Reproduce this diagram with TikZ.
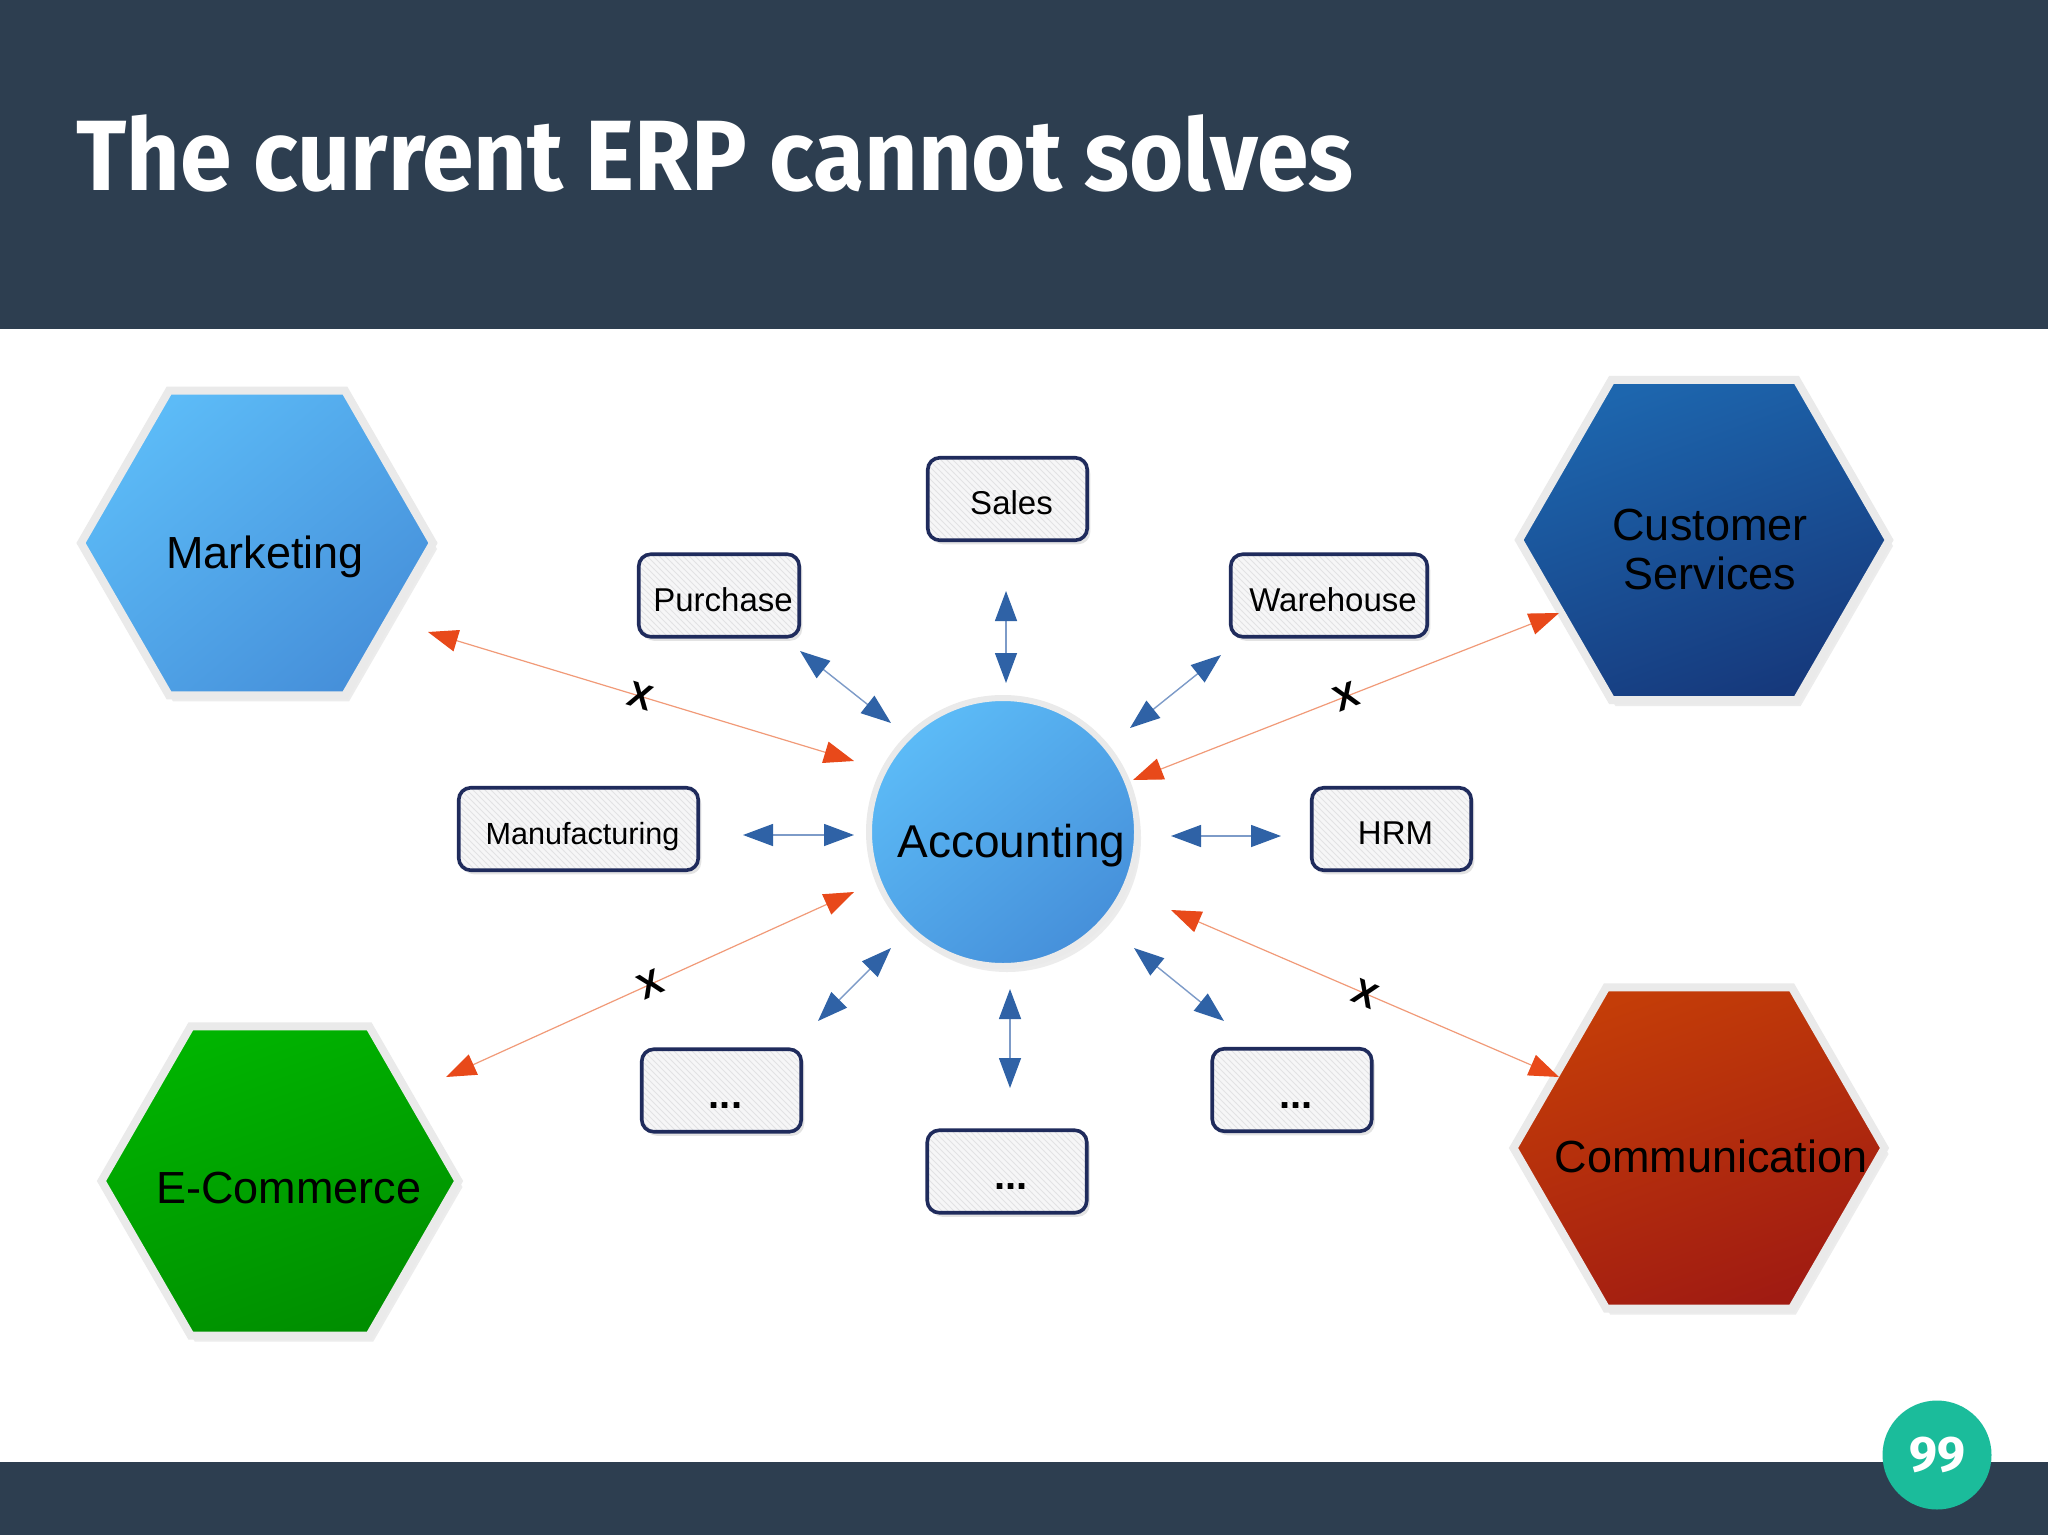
\documentclass[tikz,border=0pt]{standalone}
\usepackage{fontspec}
\setmainfont{Liberation Sans}
\newfontfamily\titlefont{Fira Sans}
\usepackage{graphicx}
\usetikzlibrary{shapes.geometric,arrows.meta,patterns,shadows}
\definecolor{band}{HTML}{2D3E50}
\definecolor{pgteal}{HTML}{1BBC9B}
\definecolor{hexborder}{HTML}{EAEAEA}
\definecolor{boxline}{HTML}{1F2B5C}
\definecolor{boxfill}{HTML}{F6F6F7}
\definecolor{hatch}{HTML}{E2E2E4}
\definecolor{arrblue}{HTML}{2F62A6}
\definecolor{arrblueline}{HTML}{7D9BC8}
\definecolor{arrorange}{HTML}{E8491A}
\definecolor{arrorangeline}{HTML}{F19A78}
\definecolor{mkA}{HTML}{5CBBF7}
\definecolor{mkB}{HTML}{4690DA}
\definecolor{csA}{HTML}{1D66AE}
\definecolor{csB}{HTML}{16397C}
\definecolor{ecA}{HTML}{00B400}
\definecolor{ecB}{HTML}{008E00}
\definecolor{coA}{HTML}{C43D08}
\definecolor{coB}{HTML}{A01B12}
\begin{document}
\begin{tikzpicture}[x=0.5pt,y=-0.5pt,
  hexa/.style={regular polygon, regular polygon sides=6, inner sep=0pt,
    draw=hexborder, line width=4pt,
    drop shadow={shadow xshift=2pt, shadow yshift=-3pt, opacity=0.15}},
  hextext/.style={anchor=base, inner sep=0pt, text=black, font=\fontsize{22.5pt}{26pt}\selectfont},
  accnode/.style={circle, inner sep=0pt, draw=hexborder, line width=3pt,
    drop shadow={shadow xshift=2pt, shadow yshift=-3pt, opacity=0.15}},
  modbox/.style={rounded corners=6pt, inner sep=0pt,
    drop shadow={shadow xshift=1.5pt, shadow yshift=-2pt, opacity=0.22},
    preaction={fill=boxfill}, pattern=north west lines, pattern color=hatch,
    draw=boxline, line width=1.8pt, minimum height=41.25pt,
    font=\fontsize{16.5pt}{19pt}\selectfont, text height=16pt, text depth=0.5pt,
    execute at begin node={\hspace*{4pt}}},
  dotbox/.style={modbox, minimum width=79.75pt, text height=18.5pt,
    font=\bfseries\fontsize{20pt}{22pt}\selectfont},
  bluearr/.style={draw=arrblueline, line width=0.7pt,
    {Triangle[length=15pt,width=11pt,color=arrblue]}-{Triangle[length=15pt,width=11pt,color=arrblue]}},
  orangearr/.style={draw=arrorangeline, line width=0.6pt,
    {Triangle[length=15pt,width=11pt,color=arrorange]}-{Triangle[length=15pt,width=11pt,color=arrorange]}},
  xmark/.style={sloped, pos=0.5, inner sep=0pt, text=black, font=\bfseries\fontsize{18pt}{18pt}\selectfont}
]
\useasboundingbox (0,0) rectangle (2048,1535);
\fill[white] (0,0) rectangle (2048,1535);
% bands
\fill[band] (0,0) rectangle (2048,329);
\fill[band] (0,1462) rectangle (2048,1535);
\node[anchor=base west, inner sep=0pt, text=white] (title) at (76,191)
  {\resizebox{638.5pt}{\height}{\titlefont\bfseries\fontsize{50pt}{55pt}\selectfont The current ERP cannot solves}};

% hexagons
\node[hexa, minimum size=176pt, left color=mkA, right color=mkB, shading angle=40] (mkt) at (257,543) {};
\node[hextext] (mkt-t) at (265,568) {Marketing};
\node[hexa, minimum size=185pt, left color=csA, right color=csB, shading angle=20] (cs) at (1704,540) {};
\node[hextext, align=center] (cs-t) at (1710,589) {Customer\\[-1.5pt]Services};
\node[hexa, minimum size=178.5pt, left color=ecA, right color=ecB, shading angle=20] (ec) at (280,1181) {};
\node[hextext] (ec-t) at (289,1203) {E-Commerce};
\node[hexa, minimum size=185.5pt, left color=coA, right color=coB, shading angle=20] (co) at (1699,1148) {};
\node[hextext] (co-t) at (1711,1172) {Communication};

% accounting
\node[accnode, minimum size=134pt, left color=mkA, right color=mkB, shading angle=40] (acc) at (1003,832) {};
\node[hextext, font=\fontsize{23pt}{26pt}\selectfont] (acc-t) at (1011.5,857) {Accounting};

% module boxes
\node[modbox, minimum width=79.75pt] (sales) at (1007.5,499) {Sales};
\node[modbox, minimum width=80.25pt] (purch) at (719,595.5) {Purchase};
\node[modbox, minimum width=98.25pt] (wh) at (1329,595.5) {Warehouse};
\node[modbox, minimum width=119.75pt, font=\fontsize{15.3pt}{18pt}\selectfont] (manu) at (578.5,829) {Manufacturing};
\node[modbox, minimum width=79.75pt] (hrm) at (1391.5,829) {HRM};
\node[dotbox] (dotbl) at (721.5,1090.5) {...};
\node[dotbox] (dotb) at (1007,1171.5) {...};
\node[dotbox] (dotbr) at (1292,1090) {...};

% connector end points
\coordinate (s1) at (1006,591);  \coordinate (s2) at (1006,683);
\coordinate (p1) at (800,651);   \coordinate (p2) at (891,723);
\coordinate (w1) at (1221,655);  \coordinate (w2) at (1130,728);
\coordinate (m1) at (743,835);   \coordinate (m2) at (854,835);
\coordinate (h1) at (1171,836);  \coordinate (h2) at (1281,836);
\coordinate (bl1) at (891,948);  \coordinate (bl2) at (818,1021);
\coordinate (b1) at (1010,989);  \coordinate (b2) at (1010,1088);
\coordinate (br1) at (1134,948); \coordinate (br2) at (1224,1021);
\coordinate (om1) at (428,632);  \coordinate (om2) at (854,761);
\coordinate (oc1) at (1559,613); \coordinate (oc2) at (1133,780);
\coordinate (oe1) at (854,892);  \coordinate (oe2) at (446,1077);
\coordinate (ok1) at (1171,910); \coordinate (ok2) at (1559,1077);

% blue connectors
\draw[bluearr] (s1) -- (s2);
\draw[bluearr] (p1) -- (p2);
\draw[bluearr] (w1) -- (w2);
\draw[bluearr] (m1) -- (m2);
\draw[bluearr] (h1) -- (h2);
\draw[bluearr] (bl1) -- (bl2);
\draw[bluearr] (b1) -- (b2);
\draw[bluearr] (br1) -- (br2);

% orange connectors
\draw[orangearr] (om1) -- node[xmark] (xm) {X} (om2);
\draw[orangearr] (oc1) -- node[xmark] (xc) {X} (oc2);
\draw[orangearr] (oe1) -- node[xmark] (xe) {X} (oe2);
\draw[orangearr] (ok1) -- node[xmark] (xk) {X} (ok2);

% page number
\node[circle, fill=pgteal, minimum size=54.5pt, inner sep=0pt, text=white,
  font=\titlefont\bfseries\fontsize{25pt}{25pt}\selectfont] (pg) at (1937,1455) {99};
\end{tikzpicture}
\end{document}
